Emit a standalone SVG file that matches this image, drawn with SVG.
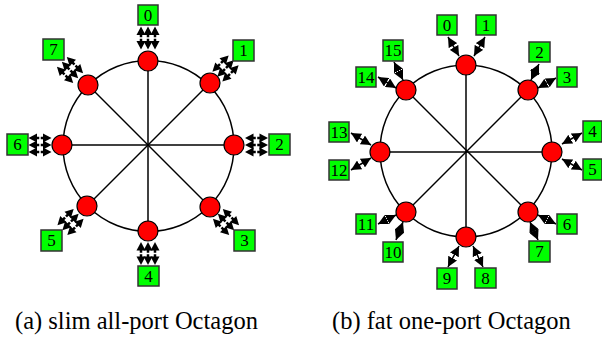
<svg xmlns="http://www.w3.org/2000/svg" xmlns:xlink="http://www.w3.org/1999/xlink" width="602" height="338" viewBox="0 0 602 338">
<style>
.ring{fill:none;stroke:#000;stroke-width:1.5}
.spoke{stroke:#000;stroke-width:1.5}
.node{fill:#ff0000;stroke:#000;stroke-width:1.2}
.box{fill:#00ff00;stroke:#333;stroke-width:1.5}
text{font-family:'Liberation Serif','DejaVu Serif','Times New Roman',serif;fill:#000}
.lbl{font-size:17px;text-anchor:middle}
.cap{font-size:24.5px}
.arr{stroke:#000;stroke-width:1.5;marker-start:url(#ah);marker-end:url(#ah)}
</style>
<defs>
<marker id="ah" markerUnits="userSpaceOnUse" markerWidth="11" markerHeight="10" refX="10" refY="5" orient="auto-start-reverse">
<path d="M0,0 L10,5 L0,10 z" fill="#000"/>
</marker>
<g id="tri">
<g fill="#000">
<polygon points="-11.5,-7 -3,-11.5 -3,-2.5"/><polygon points="11.5,-7 3,-11.5 3,-2.5"/>
<polygon points="-11.5,0 -3,-4.5 -3,4.5"/><polygon points="11.5,0 3,-4.5 3,4.5"/>
<polygon points="-11.5,7 -3,2.5 -3,11.5"/><polygon points="11.5,7 3,2.5 3,11.5"/>
</g>
<g stroke="#000" stroke-width="2.5"><line x1="-4" y1="-7" x2="4" y2="-7"/><line x1="-4" y1="0" x2="4" y2="0"/><line x1="-4" y1="7" x2="4" y2="7"/></g>
<line x1="0" y1="-11" x2="0" y2="11" stroke="#fff" stroke-width="1.5"/>
</g>
</defs>

<g id="octagon-a">
<circle class="ring" cx="148.5" cy="146" r="85.5"/>
<g id="spokes-a">
<line class="spoke" x1="148" y1="61" x2="148" y2="231"/>
<line class="spoke" x1="62" y1="145" x2="234" y2="145"/>
<line class="spoke" x1="88" y1="85" x2="210" y2="207"/>
<line class="spoke" x1="210" y1="83" x2="87" y2="206"/>
</g>
</g>
<g id="connectors-a">
<use xlink:href="#tri" transform="translate(148,38) rotate(90)"/>
<use xlink:href="#tri" transform="translate(256.5,145)"/>
<use xlink:href="#tri" transform="translate(40,145)"/>
<use xlink:href="#tri" transform="translate(148,253.5) rotate(90)"/>
<use xlink:href="#tri" transform="translate(70,70) rotate(45)"/>
<use xlink:href="#tri" transform="translate(225.5,68.5) rotate(-45)"/>
<use xlink:href="#tri" transform="translate(226,222) rotate(45)"/>
<use xlink:href="#tri" transform="translate(70.5,222) rotate(-45)"/>
</g>
<g id="a-n0"><circle class="node" cx="148" cy="61" r="10"/></g>
<g id="a-n1"><circle class="node" cx="210" cy="83" r="10"/></g>
<g id="a-n2"><circle class="node" cx="234" cy="145" r="10"/></g>
<g id="a-n3"><circle class="node" cx="210" cy="207" r="10"/></g>
<g id="a-n4"><circle class="node" cx="148" cy="231" r="10"/></g>
<g id="a-n5"><circle class="node" cx="87" cy="206" r="10"/></g>
<g id="a-n6"><circle class="node" cx="62" cy="145" r="10"/></g>
<g id="a-n7"><circle class="node" cx="88" cy="85" r="10"/></g>
<g id="a-p0"><rect class="box" x="138" y="5" width="20" height="20"/><text class="lbl" x="148" y="21">0</text></g>
<g id="a-p1"><rect class="box" x="233" y="40" width="21" height="21"/><text class="lbl" x="243.5" y="56">1</text></g>
<g id="a-p2"><rect class="box" x="269" y="134" width="21" height="21"/><text class="lbl" x="279.5" y="150">2</text></g>
<g id="a-p3"><rect class="box" x="234" y="230" width="21" height="21"/><text class="lbl" x="244.5" y="246">3</text></g>
<g id="a-p4"><rect class="box" x="138" y="266" width="21" height="20"/><text class="lbl" x="148.5" y="282">4</text></g>
<g id="a-p5"><rect class="box" x="41" y="230" width="21" height="21"/><text class="lbl" x="51.5" y="246">5</text></g>
<g id="a-p6"><rect class="box" x="7" y="134" width="21" height="21"/><text class="lbl" x="17.5" y="150">6</text></g>
<g id="a-p7"><rect class="box" x="43" y="39" width="21" height="21"/><text class="lbl" x="53.5" y="55">7</text></g>

<g id="octagon-b">
<circle class="ring" cx="466" cy="151" r="86"/>
<g id="spokes-b">
<line class="spoke" x1="466" y1="65" x2="466" y2="237"/>
<line class="spoke" x1="380" y1="152" x2="552" y2="152"/>
<line class="spoke" x1="406" y1="90" x2="528" y2="212"/>
<line class="spoke" x1="528" y1="90" x2="406" y2="212"/>
</g>
</g>
<g id="connectors-b">
<line class="arr" x1="448" y1="37" x2="459" y2="56"/>
<line class="arr" x1="485" y1="37" x2="474" y2="56"/>
<line class="arr" x1="539" y1="64" x2="531" y2="80"/>
<line class="arr" x1="556" y1="78" x2="538" y2="88"/>
<line class="arr" x1="582" y1="133" x2="562" y2="144"/>
<line class="arr" x1="582" y1="170" x2="562" y2="159"/>
<line class="arr" x1="556" y1="224" x2="538" y2="215"/>
<line class="arr" x1="538" y1="240" x2="530" y2="222"/>
<line class="arr" x1="483" y1="267" x2="473" y2="246"/>
<line class="arr" x1="448" y1="267" x2="459" y2="246"/>
<line class="arr" x1="396" y1="240" x2="403" y2="222"/>
<line class="arr" x1="378" y1="224" x2="396" y2="215"/>
<line class="arr" x1="351" y1="170" x2="371" y2="158"/>
<line class="arr" x1="351" y1="133" x2="371" y2="145"/>
<line class="arr" x1="378" y1="77" x2="396" y2="88"/>
<line class="arr" x1="394" y1="62" x2="403" y2="80"/>
</g>
<g id="b-n0"><circle class="node" cx="466" cy="65" r="10"/></g>
<g id="b-n1"><circle class="node" cx="528" cy="90" r="10"/></g>
<g id="b-n2"><circle class="node" cx="552" cy="152" r="10"/></g>
<g id="b-n3"><circle class="node" cx="528" cy="212" r="10"/></g>
<g id="b-n4"><circle class="node" cx="466" cy="237" r="10"/></g>
<g id="b-n5"><circle class="node" cx="406" cy="212" r="10"/></g>
<g id="b-n6"><circle class="node" cx="380" cy="152" r="10"/></g>
<g id="b-n7"><circle class="node" cx="406" cy="90" r="10"/></g>
<g id="b-p0"><rect class="box" x="437" y="15" width="20" height="20"/><text class="lbl" x="447" y="31">0</text></g>
<g id="b-p1"><rect class="box" x="476" y="15" width="20" height="20"/><text class="lbl" x="486" y="31">1</text></g>
<g id="b-p2"><rect class="box" x="529" y="42" width="21" height="20"/><text class="lbl" x="539.5" y="58">2</text></g>
<g id="b-p3"><rect class="box" x="557" y="67" width="20" height="20"/><text class="lbl" x="567" y="83">3</text></g>
<g id="b-p4"><rect class="box" x="583" y="121" width="19" height="21"/><text class="lbl" x="592.5" y="137">4</text></g>
<g id="b-p5"><rect class="box" x="583" y="159" width="19" height="21"/><text class="lbl" x="592.5" y="175">5</text></g>
<g id="b-p6"><rect class="box" x="557" y="214" width="20" height="20"/><text class="lbl" x="567" y="230">6</text></g>
<g id="b-p7"><rect class="box" x="529" y="241" width="21" height="21"/><text class="lbl" x="539.5" y="257">7</text></g>
<g id="b-p8"><rect class="box" x="475" y="268" width="21" height="20"/><text class="lbl" x="485.5" y="284">8</text></g>
<g id="b-p9"><rect class="box" x="437" y="268" width="20" height="21"/><text class="lbl" x="447" y="284">9</text></g>
<g id="b-p10"><rect class="box" x="383" y="242" width="20" height="20"/><text class="lbl" x="393" y="258">10</text></g>
<g id="b-p11"><rect class="box" x="356" y="214" width="20" height="20"/><text class="lbl" x="366" y="230">11</text></g>
<g id="b-p12"><rect class="box" x="329" y="160" width="20" height="20"/><text class="lbl" x="339" y="176">12</text></g>
<g id="b-p13"><rect class="box" x="329" y="122" width="20" height="20"/><text class="lbl" x="339" y="138">13</text></g>
<g id="b-p14"><rect class="box" x="356" y="67" width="20" height="20"/><text class="lbl" x="366" y="83">14</text></g>
<g id="b-p15"><rect class="box" x="383" y="40" width="20" height="21"/><text class="lbl" x="393" y="56">15</text></g>

<text class="cap" x="15" y="329">(a) slim all-port Octagon</text>
<text class="cap" x="332" y="329">(b) fat one-port Octagon</text>
</svg>
